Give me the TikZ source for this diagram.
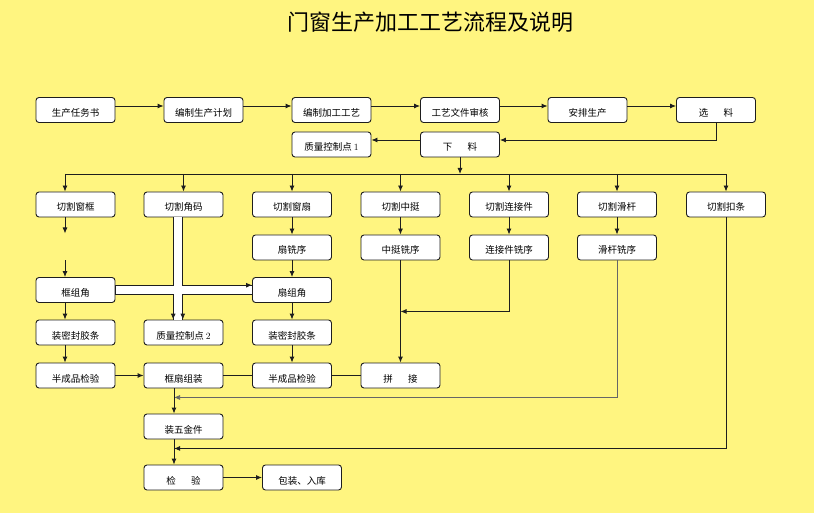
\documentclass[tikz,border=0pt]{standalone}
\usepackage{fontspec}
\usepackage{tikz}
\usetikzlibrary{arrows.meta}
\newfontfamily\cjk{Noto Sans CJK SC}
\definecolor{bgyellow}{RGB}{255,245,128}
\definecolor{lncolor}{RGB}{30,30,30}

\tikzset{
	box/.style={draw=lncolor, line width=0.9pt, fill=white, rounded corners=3pt,
		minimum width=79pt, minimum height=25pt, inner sep=0pt,
		text height=13pt, text depth=0pt, font=\cjk\fontsize{9.5}{10}\selectfont},
	ln/.style={draw=lncolor, line width=0.9pt},
	arr/.style={ln, -{Latex[length=6pt,width=5pt]}},
	thinarr/.style={arr, draw=black!60, line width=0.7pt}
}

\begin{document}
\begin{tikzpicture}[x=1pt, y=-1pt]
	\fill[bgyellow] (0,0) rectangle (814,513);
	\useasboundingbox (0,0) rectangle (814,513);

	\node[font=\cjk\fontsize{22}{22}\selectfont] (title) at (430,22.5) {门窗生产加工工艺流程及说明};

	% first two rows
	\node[box] (sc) at (75.5,110) {生产任务书};
	\node[box] (jh) at (203.5,110) {编制生产计划};
	\node[box] (gy) at (331.5,110) {编制加工工艺};
	\node[box] (sh) at (460,110) {工艺文件审核};
	\node[box] (ap) at (587.5,110) {安排生产};
	\node[box] (xl) at (716,110) {选\hspace{1.6em}料};
	\node[box] (zk1) at (331.5,144.5) {质量控制点 {\rmfamily 1}};
	\node[box] (xla) at (460,144.5) {下\hspace{1.6em}料};

	% cutting
	\node[box] (qk) at (75.5,204.5) {切割窗框};
	\node[box] (jm) at (183.5,204.5) {切割角码};
	\node[box] (qs) at (292,204.5) {切割窗扇};
	\node[box] (qz) at (400.5,204.5) {切割中挺};
	\node[box] (ql) at (509,204.5) {切割连接件};
	\node[box] (qh) at (617,204.5) {切割滑杆};
	\node[box] (qt) at (726,204.5) {切割扣条};

	\node[box] (ss) at (292,247.5) {扇铣序};
	\node[box] (zx) at (400.5,247.5) {中挺铣序};
	\node[box] (lx) at (509,247.5) {连接件铣序};
	\node[box] (hx) at (617,247.5) {滑杆铣序};

	% assembly
	\node[box] (kzj) at (75.5,290) {框组角};
	\node[box] (szj) at (292,290) {扇组角};
	\node[box] (kmf) at (75.5,332.5) {装密封胶条};
	\node[box] (zk2) at (183.5,332.5) {质量控制点 {\rmfamily 2}};
	\node[box] (smf) at (292,332.5) {装密封胶条};
	\node[box] (kbj) at (75.5,375.5) {半成品检验};
	\node[box] (kz) at (183.5,375.5) {框扇组装};
	\node[box] (sbj) at (292,375.5) {半成品检验};
	\node[box] (pj) at (400.5,375.5) {拼\hspace{1.6em}接};
	\node[box] (wj) at (183.5,426.5) {装五金件};
	\node[box] (jy) at (183.5,477.5) {检\hspace{1.6em}验};
	\node[box] (bz) at (302,477.5) {包装、入库};

	% connectors
	\foreach \a/\b in {sc/jh, jh/gy, gy/sh, sh/ap, ap/xl}
	\draw[arr] ([yshift=4pt]\a.east) -- ([yshift=4pt]\b.west);
	\draw[arr] (xl.south) |- ([yshift=4.5pt]xla.east);
	\draw[arr] ([yshift=4.5pt]xla.west) -- ([yshift=4.5pt]zk1.east);

	\coordinate (bus) at (460,174);
	\draw[arr] (xla.south) -- (bus);
	\draw[ln] ([xshift=-10.5pt]qk.north |- bus) -- (qt.north |- bus);
	\draw[arr] ([xshift=-10.5pt]qk.north |- bus) -- ([xshift=-10.5pt]qk.north);
	\foreach \n in {jm, qs, qz, ql, qh, qt}
	\draw[arr] (\n.north |- bus) -- (\n.north);

	\coordinate (qka) at ([xshift=-10.5pt,yshift=-16pt]qk.south);
	\coordinate (kzb) at ([xshift=-10.5pt,yshift=17pt]kzj.north);
	\draw[arr] ([xshift=-10.5pt]qk.south) -- (qka);
	\draw[arr] (kzb) -- ([xshift=-10.5pt]kzj.north);
	\draw[arr] ([xshift=-10.5pt]kzj.south) -- ([xshift=-10.5pt]kmf.north);
	\draw[arr] ([xshift=-10.5pt]kmf.south) -- ([xshift=-10.5pt]kbj.north);

	\foreach \a/\b in {qs/ss, ss/szj, szj/smf, smf/sbj, qz/zx, ql/lx, qh/hx, zx/pj, kbj/kz, jy/bz}
	\draw[arr] (\a) -- (\b);
	\draw[ln] (kz.east) -- (sbj.west) (sbj.east) -- (pj.west);

	\coordinate (lxm) at ([yshift=-51pt]lx.south);
	\draw[arr] (lx.south) -- (lxm) -- (lxm -| zx.south);

	\coordinate (kzs) at ([xshift=-9.5pt]kz.south);
	\coordinate (hxm) at ([yshift=-137pt]hx.south);
	\coordinate (qtm) at ([yshift=-231pt]qt.south);
	\draw[thinarr] (hx.south) -- (hxm) -- (hxm -| kzs);
	\draw[arr] (qt.south) -- (qtm) -- (qtm -| kzs);
	\draw[arr] (kzs) -- ([xshift=-9.5pt]wj.north);
	\draw[arr] ([xshift=-9.5pt]wj.south) -- ([xshift=-9.5pt]jy.north);

	% hollow band for corner pieces
	\draw[lncolor, line width=9.6pt] ([xshift=-5.5pt]jm.south) -- ([xshift=-5.5pt]zk2.north)
		(kzj.east) -- (szj.west);
	\draw[white, line width=8pt, shorten <=0.5pt, shorten >=0.5pt]
		([xshift=-5.5pt]jm.south) -- ([xshift=-5.5pt]zk2.north)
		(kzj.east) -- (szj.west);
	\draw[arr] ([xshift=-10.3pt,yshift=7pt]zk2.north) -- ([xshift=-10.3pt]zk2.north);
	\draw[arr] ([xshift=-0.7pt,yshift=7pt]zk2.north) -- ([xshift=-0.7pt]zk2.north);
	\draw[arr] ([xshift=-7pt,yshift=4.8pt]szj.west) -- ([yshift=4.8pt]szj.west);
\end{tikzpicture}
\end{document}
